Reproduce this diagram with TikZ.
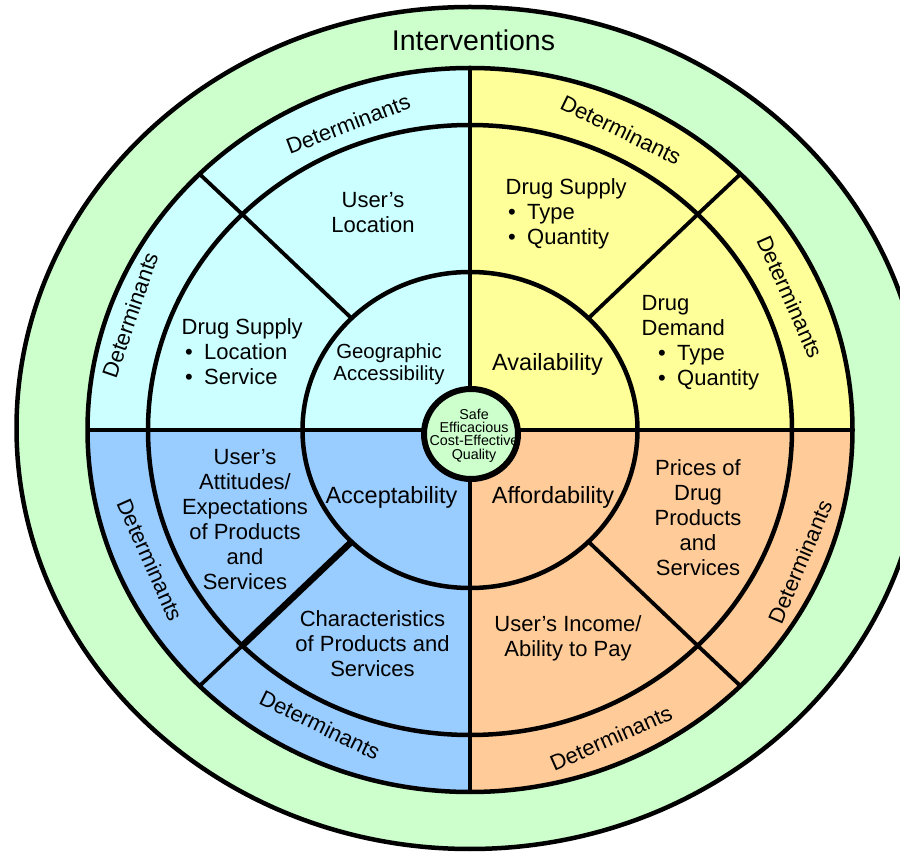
\documentclass[tikz,border=0pt]{standalone}
\usepackage{fontspec}
\setmainfont{Liberation Sans}
\definecolor{gq}{HTML}{CCFFCC}
\definecolor{cq}{HTML}{CCFFFF}
\definecolor{yq}{HTML}{FFFF99}
\definecolor{bq}{HTML}{99CCFF}
\definecolor{oq}{HTML}{FFCC99}
\newcommand\bl[1]{\textbullet\hspace{11.3pt}#1}
\begin{document}
\begin{tikzpicture}[x=1pt,y=1pt,
  ring/.style={draw=black,line width=4.5pt},
  divider/.style={draw=black,line width=4pt},
  lbl/.style={inner sep=0pt,font=\fontsize{22}{25}\selectfont},
  cat/.style={inner sep=0pt,font=\fontsize{23.5}{26}\selectfont},
  det/.style={inner sep=0pt,font=\fontsize{22}{25}\selectfont}]
\useasboundingbox (0,0) rectangle (900,852);
\clip (0,0) rectangle (900,852);
\coordinate (C) at (470,422);
% outer green ring
\filldraw[fill=gq,draw=black,line width=4.5pt] (470,424) ellipse [x radius=453.5,y radius=421];
% quadrant fills
\fill[cq] (C) -- +(0,362) arc[start angle=90,end angle=180,x radius=382.5,y radius=362] -- cycle;
\fill[yq] (C) -- +(382.5,0) arc[start angle=0,end angle=90,x radius=382.5,y radius=362] -- cycle;
\fill[bq] (C) -- +(-382.5,0) arc[start angle=180,end angle=270,x radius=382.5,y radius=362] -- cycle;
\fill[oq] (C) -- +(0,-362) arc[start angle=270,end angle=360,x radius=382.5,y radius=362] -- cycle;
% ellipses
\draw[ring] (C) ellipse [x radius=382.5,y radius=362];
\draw[ring] (C) ellipse [x radius=322,y radius=305];
\draw[ring] (C) ellipse [x radius=167.5,y radius=158];
% straight dividers
\coordinate (L) at (87.5,422); \coordinate (R) at (852.5,422);
\coordinate (T) at (470,784); \coordinate (B) at (470,60);
\draw[divider] (L) -- (R);
\draw[divider] (T) -- (B);
% diagonal dividers
\foreach \t/\n in {45/ne,135/nw,225/sw,315/se}{
  \coordinate (i\n) at ({470+167.5*cos(\t)},{422+158*sin(\t)});
  \coordinate (m\n) at ({470+322*cos(\t)},{422+305*sin(\t)});
  \coordinate (o\n) at ({470+382.5*cos(\t)},{422+362*sin(\t)});
}
\draw[draw=black,line width=3.8pt] (ine) -- (mne) -- (one);
\draw[draw=black,line width=3.8pt] (inw) -- (mnw) -- (onw);
\draw[draw=black,line width=3.8pt] (ise) -- (mse) -- (ose);
\draw[draw=black,line width=6.5pt] (isw) -- (msw);
\draw[draw=black,line width=3.8pt] (msw) -- (osw);
% centre circle
\filldraw[fill=gq,draw=black,line width=6pt] (471,418) ellipse [x radius=47,y radius=45];
\node[inner sep=0pt,align=center,font=\fontsize{14.3}{13.4}\selectfont] (ctr) at (474,416.5) {Safe\\Efficacious\\Cost-Effective\\Quality};
% title
\node[inner sep=0pt,font=\fontsize{28.5}{30}\selectfont] (intv) at (473.5,812) {Interventions};
% category labels
\node[lbl,align=center,font=\fontsize{20.4}{22.5}\selectfont] (geo) at (389,488) {Geographic\\Accessibility};
\node[cat] (avail) at (547.5,488) {Availability};
\node[cat] (accept) at (391.5,354.6) {Acceptability};
\node[cat] (afford) at (553,354.6) {Affordability};
% cyan texts
\node[lbl,align=center] (uloc) at (373,639) {User’s\\Location};
\node[lbl,align=left,anchor=west] (cds) at (181.5,500) {Drug Supply\\\hspace*{3.5pt}\bl{Location}\\\hspace*{3.5pt}\bl{Service}};
% yellow texts
\node[lbl,align=left,anchor=west] (yds) at (505.5,638) {Drug Supply\\\hspace*{2.5pt}\bl{Type}\\\hspace*{2.5pt}\bl{Quantity}};
\node[lbl,align=left,anchor=west] (ydd) at (641.5,509.5) {Drug\\Demand\\\hspace*{16.5pt}\bl{Type}\\\hspace*{16.5pt}\bl{Quantity}};
% blue texts
\node[lbl,align=center] (uatt) at (245,332.5) {User’s\\Attitudes/\\Expectations\\of Products\\and\\Services};
\node[lbl,align=center] (char) at (372.5,208.5) {Characteristics\\of Products and\\Services};
% orange texts
\node[lbl,align=center] (price) at (698,334.5) {Prices of\\Drug\\Products\\and\\Services};
\node[lbl,align=center] (inc) at (568,213.5) {User’s Income/\\Ability to Pay};
% determinants
\node[det,rotate=21] (d1) at (348,728) {Determinants};
\node[det,rotate=71] (d2) at (130,537) {Determinants};
\node[det,rotate=-26] (d3) at (621,722) {Determinants};
\node[det,rotate=-66] (d4) at (790,555) {Determinants};
\node[det,rotate=-66] (d5) at (150,292) {Determinants};
\node[det,rotate=-26] (d6) at (320,127) {Determinants};
\node[det,rotate=24] (d7) at (611,114) {Determinants};
\node[det,rotate=67] (d8) at (800,290) {Determinants};
\end{tikzpicture}
\end{document}
